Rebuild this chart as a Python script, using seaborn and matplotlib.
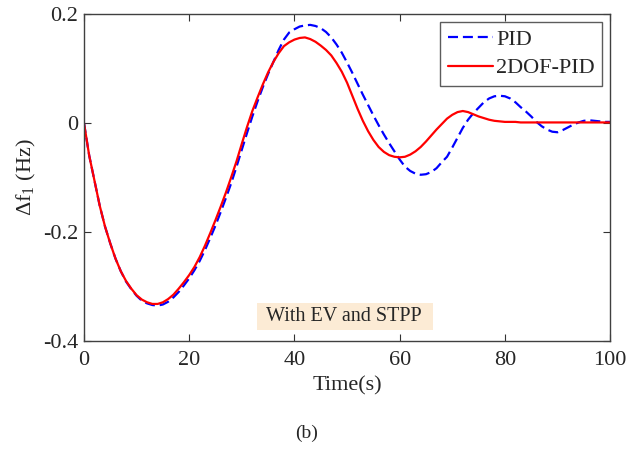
import numpy as np
import pandas as pd
import matplotlib
matplotlib.use("Agg")
import matplotlib.pyplot as plt
from matplotlib.lines import Line2D
from matplotlib.patches import Rectangle
import seaborn as sns

# time axis (s), one reading per second
time_s = list(range(101))

# PID response
pid = [0, -0.060, -0.106, -0.152, -0.190, -0.221, -0.249, -0.272, -0.291, -0.305,
       -0.317, -0.326, -0.331, -0.334, -0.335, -0.333, -0.328, -0.320, -0.310, -0.298,
       -0.285, -0.270, -0.253, -0.233, -0.211, -0.188, -0.163, -0.137, -0.110, -0.080,
       -0.049, -0.018, 0.012, 0.040, 0.066, 0.090, 0.112, 0.134, 0.153, 0.166,
       0.172, 0.177, 0.179, 0.180, 0.178, 0.174, 0.167, 0.157, 0.144, 0.129,
       0.111, 0.092, 0.072, 0.052, 0.033, 0.014, -0.004, -0.021, -0.037, -0.052,
       -0.067, -0.080, -0.088, -0.093, -0.095, -0.094, -0.090, -0.083, -0.072, -0.062,
       -0.045, -0.027, -0.009, 0.006, 0.018, 0.028, 0.038, 0.045, 0.049, 0.050,
       0.049, 0.045, 0.038, 0.029, 0.021, 0.012, 0.002, -0.006, -0.012, -0.016,
       -0.017, -0.013, -0.008, -0.003, 0.001, 0.004, 0.005, 0.004, 0.003, 0.002,
       0.002]

# 2DOF-PID response
pid_2dof = [0, -0.060, -0.106, -0.152, -0.190, -0.221, -0.249, -0.272, -0.290, -0.304,
            -0.316, -0.324, -0.329, -0.332, -0.332, -0.329, -0.323, -0.315, -0.304, -0.292,
            -0.279, -0.264, -0.246, -0.225, -0.202, -0.178, -0.153, -0.127, -0.099, -0.070,
            -0.038, -0.007, 0.022, 0.047, 0.071, 0.093, 0.112, 0.128, 0.141, 0.148,
            0.153, 0.156, 0.157, 0.154, 0.149, 0.142, 0.134, 0.124, 0.110, 0.094,
            0.074, 0.050, 0.026, 0.004, -0.015, -0.031, -0.044, -0.053, -0.059, -0.062,
            -0.063, -0.062, -0.058, -0.052, -0.044, -0.034, -0.023, -0.012, -0.002, 0.008,
            0.015, 0.020, 0.022, 0.020, 0.016, 0.012, 0.009, 0.006, 0.004, 0.003,
            0.002, 0.002, 0.002, 0.001, 0.001, 0.001, 0.001, 0.001, 0.001, 0.001,
            0.001, 0.001, 0.001, 0.001, 0.001, 0.001, 0.001, 0.001, 0.001, 0.001,
            0.001]

series_names = ["PID", "2DOF-PID"]
x_ticks = [0, 20, 40, 60, 80, 100]
y_ticks = [-0.4, -0.2, 0, 0.2]
y_tick_labels = ["-0.4", "-0.2", "0", "0.2"]

df = pd.DataFrame({
    "t": time_s * 2,
    "v": pid + pid_2dof,
    "ctrl": [series_names[0]] * len(pid) + [series_names[1]] * len(pid_2dof),
})

sns.set_style("ticks")
plt.rcParams["font.family"] = ["Liberation Serif", "DejaVu Serif"]
plt.rcParams["mathtext.fontset"] = "custom"
plt.rcParams["mathtext.rm"] = "Liberation Serif"
plt.rcParams["mathtext.it"] = "Liberation Serif"

fig = plt.figure(figsize=(6.29, 4.51), dpi=100)
ax = fig.add_axes([0.1335, 0.2439, 0.8365, 0.7251])

sns.lineplot(data=df, x="t", y="v", hue="ctrl", style="ctrl",
             palette={"PID": "#0000FF", "2DOF-PID": "#FF0000"},
             dashes={"PID": (4.5, 2.2), "2DOF-PID": ""},
             linewidth=1.6, estimator=None, legend=False, ax=ax)

ax.set_xlim(0, 100)
ax.set_ylim(-0.4, 0.2)
ax.set_xticks(x_ticks)
ax.set_xticklabels([str(v) for v in x_ticks])
ax.set_yticks(y_ticks)
ax.set_yticklabels(y_tick_labels)
ax.tick_params(direction="in", top=True, right=True, length=5, width=0.8,
               labelsize=16, color="#333333", pad=4)
ax.tick_params(axis="x", pad=7)
for sp in ax.spines.values():
    sp.set_visible(True)
    sp.set_color("#404040")
    sp.set_linewidth(1.0)

ax.set_xlabel("Time(s)", fontsize=16, labelpad=5)
ax.set_ylabel(r"Δf$_1$ (Hz)", fontsize=16, labelpad=4)

# legend
handles = [Line2D([], [], color="#0000FF", lw=1.6, dashes=(4.5, 2.2)),
           Line2D([], [], color="#FF0000", lw=1.6)]
leg = ax.legend(handles, series_names, loc="upper right", fontsize=16,
                frameon=True, fancybox=False, handlelength=2.0, handletextpad=0.15,
                borderpad=0.35, labelspacing=0.35, borderaxespad=0.35)
leg.get_frame().set_edgecolor("#333333")
leg.get_frame().set_linewidth(1.0)

# annotation with shaded background
ax.add_patch(Rectangle((0.328, 0.034), 0.3355, 0.0826, transform=ax.transAxes,
                       facecolor="#FCEBD5", edgecolor="none", zorder=1))
ax.text(0.494, 0.075, "With EV and STPP", transform=ax.transAxes,
        ha="center", va="center", fontsize=14.5, zorder=2)

fig.text(0.488, 1 - 433 / 451, "(b)", ha="center", va="center", fontsize=14)

fig.savefig("out.png", dpi=100)
